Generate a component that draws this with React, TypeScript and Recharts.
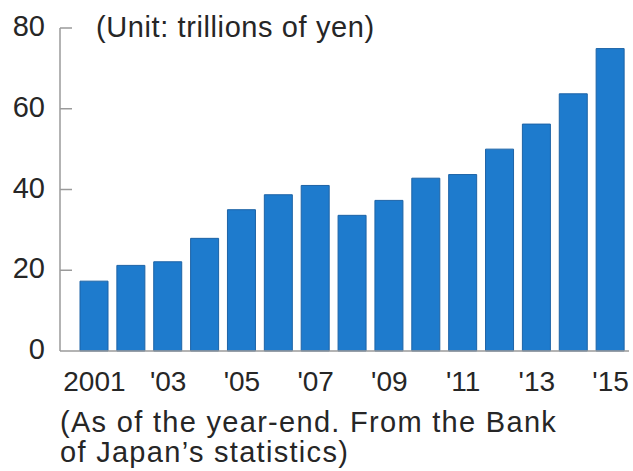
import React from 'react';
import { BarChart, Bar, XAxis, YAxis } from 'recharts';

const years = ["2001", "'02", "'03", "'04", "'05", "'06", "'07", "'08", "'09", "'10", "'11", "'12", "'13", "'14", "'15"];
const values = [17.3, 21.2, 22.1, 27.9, 35.0, 38.7, 41.0, 33.6, 37.3, 42.8, 43.7, 50.0, 56.2, 63.7, 74.9];
const yTicks = [0, 20, 40, 60, 80];

const unitLabel = '(Unit: trillions of yen)';
const footLine1 = '(As of the year-end. From the Bank';
const footLine2 = "of Japan\u2019s statistics)";

const data = years.map((y, i) => ({ year: y, value: values[i] }));

const FONT = '"Liberation Sans", Arial, Helvetica, sans-serif';
const TEXT = '#262626';
const AXIS = '#9a9a9a';

const YTick = (props: any) => {
  const { x, y, payload } = props;
  return (
    <g>
      {payload.value !== 0 && (
        <line x1={x} x2={x + 12} y1={y} y2={y} stroke={AXIS} strokeWidth={1.5} />
      )}
      <text x={x - 15} y={y} dy={8} textAnchor="end" fontFamily={FONT} fontSize={29} fill={TEXT}>
        {payload.value}
      </text>
    </g>
  );
};

const XTick = (props: any) => {
  const { x, y, payload } = props;
  return (
    <text x={x} y={y} dy={40} textAnchor="middle" fontFamily={FONT} fontSize={28} fill={TEXT}>
      {payload.value}
    </text>
  );
};

export default function App() {
  return (
    <div style={{ position: 'absolute', left: 0, top: 0, width: 633, height: 471, background: '#fff', overflow: 'hidden' }}>
      <BarChart width={633} height={471} data={data} margin={{ top: 28, right: 4, left: 0, bottom: 0 }}>
        <XAxis
          dataKey="year"
          height={120}
          interval={1}
          tickSize={0}
          tickMargin={0}
          tickLine={false}
          axisLine={{ stroke: AXIS, strokeWidth: 1.5 }}
          padding={{ left: 16, right: 0 }}
          tick={<XTick />}
        />
        <YAxis
          width={60}
          domain={[0, 80]}
          ticks={yTicks}
          tickSize={0}
          tickMargin={0}
          tickLine={false}
          axisLine={{ stroke: AXIS, strokeWidth: 1.5 }}
          tick={<YTick />}
        />
        <Bar dataKey="value" barSize={28} fill="#1e7bcd" stroke="#1d63a6" strokeWidth={1} isAnimationActive={false} />
      </BarChart>
      <div style={{ position: 'absolute', left: 96, top: 12, fontFamily: FONT, fontSize: 29, lineHeight: '30px', letterSpacing: 0.6, color: TEXT, whiteSpace: 'nowrap' }}>
        {unitLabel}
      </div>
      <div style={{ position: 'absolute', left: 60, top: 407, fontFamily: FONT, fontSize: 29, lineHeight: '30px', letterSpacing: 1.3, color: TEXT, whiteSpace: 'nowrap' }}>
        <div>{footLine1}</div>
        <div>{footLine2}</div>
      </div>
    </div>
  );
}
